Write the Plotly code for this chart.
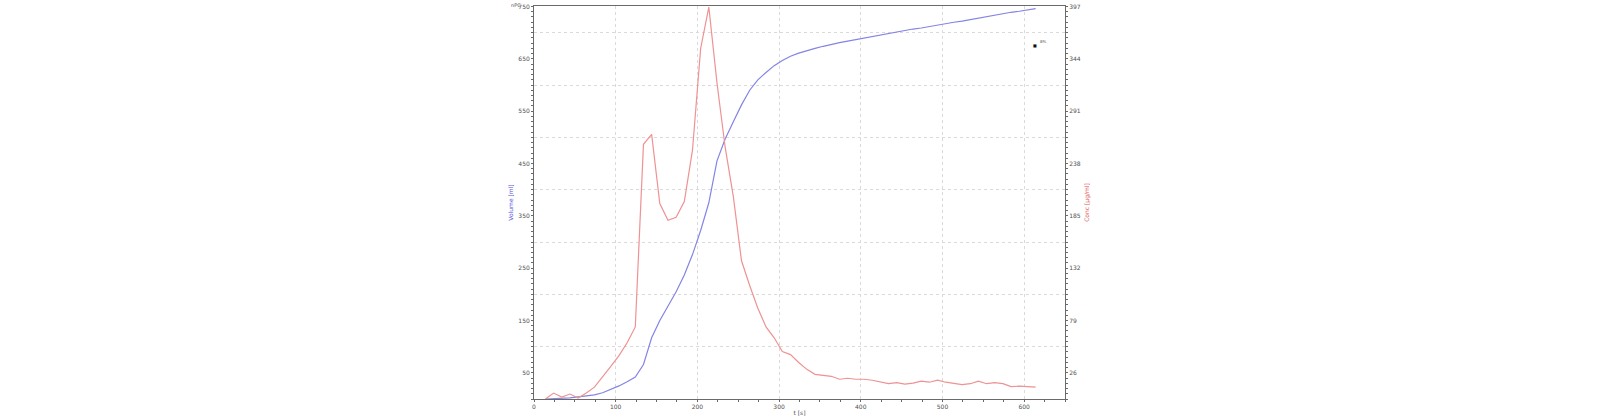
import plotly.graph_objects as go

# ---- data ----
t_s = [14, 24, 34, 44, 54, 64, 74, 84, 94, 104, 114, 124, 134, 144, 154, 164, 174, 184, 194, 204,
       214, 224, 234, 244, 254, 264, 274, 284, 294, 304, 314, 324, 334, 344, 354, 364, 374, 384, 394, 404,
       414, 424, 434, 444, 454, 464, 474, 484, 494, 504, 514, 524, 534, 544, 554, 564, 574, 584, 594, 604, 614]

volume_ml = [0, 0.5, 1, 2, 4, 6, 8, 12, 18, 25, 33, 42, 66, 117, 150, 178, 205, 237, 276, 322,
             375, 455, 497, 530, 562, 590, 610, 624, 637, 647, 655, 661, 666, 670, 674, 678, 681, 684, 687, 690,
             693, 696, 699, 702, 704, 707, 709, 712, 715, 717, 720, 722, 725, 728, 730, 733, 736, 739, 741, 743, 746]

conc_ugml = [0, 6, 2, 5, 1, 6, 12, 22, 33, 44, 57, 73, 258, 268, 198, 181, 184, 200, 252, 355,
             397, 320, 255, 205, 140, 115, 92, 73, 62, 48, 45, 37, 30, 25, 24, 23, 20, 21, 20, 20,
             19, 17, 15.5, 16.5, 15, 16, 18, 17, 19, 17, 15.5, 14.5, 15.5, 18, 15.5, 16.5, 15.5, 12.5, 13, 12.5, 12]

x_ticks = [0, 100, 200, 300, 400, 500, 600]
left_ticks = [50, 150, 250, 350, 450, 550, 650, 750]
left_grid = [100, 200, 300, 400, 500, 600, 700]
right_tickvals = [26.5, 79.5, 132.5, 185.5, 238.5, 291.5, 344.5, 397.5]
right_ticktext = ["26", "79", "132", "185", "238", "291", "344", "397"]

BLUE = "rgb(132,132,230)"
RED = "rgb(238,146,146)"
AX = "#6a6a6a"
GRID = "#dadada"
FONT = dict(family="DejaVu Sans", size=6, color="#505050")

fig = go.Figure()
# invisible carrier so the grid axis is drawn
fig.add_trace(go.Scatter(x=t_s, y=volume_ml, mode="lines", line=dict(color="rgba(0,0,0,0)", width=0),
                         yaxis="y3", showlegend=False, hoverinfo="skip"))
fig.add_trace(go.Scatter(x=t_s, y=volume_ml, mode="lines", line=dict(color=BLUE, width=1.2),
                         yaxis="y", showlegend=False))
fig.add_trace(go.Scatter(x=t_s, y=conc_ugml, mode="lines", line=dict(color=RED, width=1.2),
                         yaxis="y2", showlegend=False))

fig.update_layout(
    width=1600, height=419,
    margin=dict(l=534, r=535, t=6, b=20, autoexpand=False),
    plot_bgcolor="white", paper_bgcolor="white",
    font=FONT,
    showlegend=False,
    xaxis=dict(range=[0, 650], tickvals=x_ticks, showgrid=True, gridcolor=GRID, griddash="dot",
               gridwidth=1, zeroline=False, showline=True, linecolor=AX, linewidth=1, mirror=True,
               ticks="outside", ticklen=2, tickcolor=AX, tickfont=FONT, automargin=False,
               minor=dict(dtick=25, tick0=0, ticks="outside", ticklen=2, tickcolor=AX, showgrid=False),
               title=dict(text="t [s]", font=dict(family="DejaVu Sans", size=6, color="#505050"), standoff=1)),
    yaxis=dict(range=[0, 751], tickvals=left_ticks, showgrid=False, zeroline=False, automargin=False,
               showline=True, linecolor=AX, linewidth=1, ticks="outside", ticklen=2, tickcolor=AX,
               tickfont=FONT,
               minor=dict(dtick=10, tick0=0, ticks="outside", ticklen=2, tickcolor=AX, showgrid=False),
               title=dict(text="Volume [ml]", font=dict(family="DejaVu Sans", size=6, color="#5555dd"),
                          standoff=4)),
    yaxis2=dict(range=[0, 398.03], overlaying="y", side="right", tickvals=right_tickvals,
                ticktext=right_ticktext, showgrid=False, zeroline=False, showline=True, linecolor=AX,
                linewidth=1, ticks="outside", ticklen=2, tickcolor=AX, tickfont=FONT, automargin=False,
                minor=dict(dtick=5.3, tick0=0, ticks="outside", ticklen=2, tickcolor=AX, showgrid=False),
                title=dict(text="Conc [µg/ml]", font=dict(family="DejaVu Sans", size=6, color="#e05555"),
                           standoff=4)),
    yaxis3=dict(range=[0, 751], overlaying="y", tickvals=left_grid, showgrid=True, gridcolor=GRID,
                griddash="dot", gridwidth=1, showticklabels=False, ticks="", zeroline=False,
                showline=False, automargin=False),
)

fig.add_annotation(text="nPC", xref="paper", yref="paper", x=-0.034, y=1.0128, showarrow=False,
                   xanchor="center", yanchor="top", borderpad=0,
                   font=dict(family="DejaVu Sans", size=5, color="#505050"))
fig.add_annotation(text="■", xref="paper", yref="paper", x=0.9437, y=0.9005, showarrow=False,
                   xanchor="center", yanchor="middle", font=dict(family="DejaVu Sans", size=4, color="#111"))
fig.add_annotation(text="8%", xref="paper", yref="paper", x=0.949, y=0.910, showarrow=False,
                   xanchor="left", yanchor="middle", font=dict(family="DejaVu Sans", size=4, color="#505050"))

fig.write_html("out.html", config={"displayModeBar": False},
               post_script="document.body.style.margin='0px';document.body.style.overflow='hidden';")
